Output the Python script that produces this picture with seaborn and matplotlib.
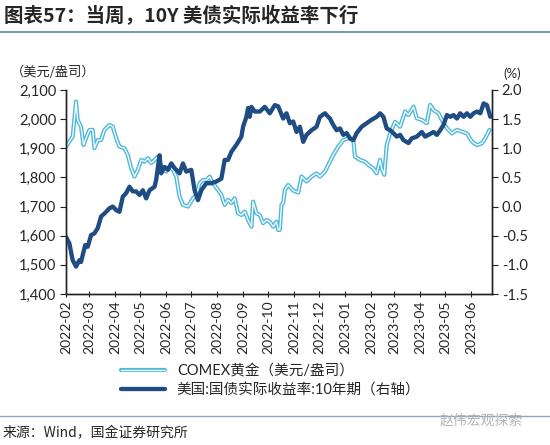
import numpy as np
import pandas as pd
import matplotlib
matplotlib.use("Agg")
import matplotlib.pyplot as plt
import matplotlib.dates as mdates
import matplotlib.patheffects as pe
from matplotlib.ticker import FuncFormatter, MultipleLocator
import seaborn as sns

# COMEX gold, USD/oz (left axis)
gold_dates = [
    "2022-02-01", "2022-02-05", "2022-02-09", "2022-02-13", "2022-02-15", "2022-02-19",
    "2022-02-22", "2022-02-25", "2022-03-01", "2022-03-05", "2022-03-07", "2022-03-11",
    "2022-03-15", "2022-03-19", "2022-03-25", "2022-03-29", "2022-04-02", "2022-04-06",
    "2022-04-12", "2022-04-16", "2022-04-20", "2022-04-24", "2022-04-28", "2022-05-02",
    "2022-05-06", "2022-05-10", "2022-05-14", "2022-05-18", "2022-05-22", "2022-05-24",
    "2022-05-28", "2022-06-01", "2022-06-05", "2022-06-09", "2022-06-13", "2022-06-17",
    "2022-06-21", "2022-06-27", "2022-07-03", "2022-07-07", "2022-07-11", "2022-07-15",
    "2022-07-19", "2022-07-23", "2022-07-27", "2022-08-02", "2022-08-06", "2022-08-10",
    "2022-08-14", "2022-08-18", "2022-08-22", "2022-08-26", "2022-08-30", "2022-09-03",
    "2022-09-07", "2022-09-11", "2022-09-13", "2022-09-17", "2022-09-21", "2022-09-25",
    "2022-09-29", "2022-10-03", "2022-10-07", "2022-10-11", "2022-10-13", "2022-10-15",
    "2022-10-17", "2022-10-19", "2022-10-21", "2022-10-25", "2022-10-31", "2022-11-06",
    "2022-11-10", "2022-11-16", "2022-11-22", "2022-11-28", "2022-12-02", "2022-12-08",
    "2022-12-14", "2022-12-18", "2022-12-24", "2022-12-30", "2023-01-05", "2023-01-11",
    "2023-01-13", "2023-01-19", "2023-01-25", "2023-01-29", "2023-02-04", "2023-02-08",
    "2023-02-12", "2023-02-14", "2023-02-17", "2023-02-20", "2023-02-24", "2023-03-02",
    "2023-03-08", "2023-03-14", "2023-03-18", "2023-03-24", "2023-03-28", "2023-04-03",
    "2023-04-09", "2023-04-13", "2023-04-17", "2023-04-23", "2023-04-29", "2023-05-03",
    "2023-05-09", "2023-05-15", "2023-05-21", "2023-05-27", "2023-06-02", "2023-06-08",
    "2023-06-14", "2023-06-18", "2023-06-23",
]
gold_values = [
    1906, 1923, 1940, 2060, 1997, 1974,
    1911, 1935, 1963, 1963, 1900, 1928,
    1928, 1963, 1980, 1974, 1935, 1906,
    1900, 1877, 1832, 1803, 1826, 1860,
    1854, 1866, 1849, 1860, 1871, 1854,
    1826, 1820, 1837, 1826, 1803, 1734,
    1706, 1700, 1728, 1740, 1780, 1791,
    1791, 1803, 1780, 1757, 1740, 1706,
    1723, 1712, 1728, 1677, 1671, 1683,
    1654, 1631, 1717, 1677, 1671, 1643,
    1654, 1648, 1631, 1648, 1620, 1620,
    1706, 1712, 1757, 1774, 1755, 1748,
    1803, 1786, 1803, 1814, 1803, 1820,
    1854, 1877, 1906, 1928, 1934, 1928,
    1871, 1860, 1854, 1843, 1831, 1814,
    1860, 1831, 1809, 1911, 1951, 1991,
    1974, 2026, 2014, 2043, 2003, 1997,
    1986, 2049, 2031, 2020, 1986, 1969,
    1951, 1963, 1957, 1951, 1923, 1911,
    1917, 1934, 1963,
]

# US 10Y TIPS real yield, % (right axis)
ry_dates = [
    "2022-02-01", "2022-02-05", "2022-02-09", "2022-02-13", "2022-02-17", "2022-02-19",
    "2022-02-24", "2022-02-27", "2022-03-03", "2022-03-07", "2022-03-11", "2022-03-15",
    "2022-03-19", "2022-03-25", "2022-03-29", "2022-04-02", "2022-04-06", "2022-04-10",
    "2022-04-14", "2022-04-18", "2022-04-22", "2022-04-26", "2022-04-30", "2022-05-04",
    "2022-05-08", "2022-05-12", "2022-05-18", "2022-05-20", "2022-05-24", "2022-05-26",
    "2022-05-30", "2022-06-03", "2022-06-07", "2022-06-11", "2022-06-17", "2022-06-21",
    "2022-06-25", "2022-07-01", "2022-07-05", "2022-07-09", "2022-07-13", "2022-07-19",
    "2022-07-25", "2022-07-31", "2022-08-06", "2022-08-10", "2022-08-14", "2022-08-18",
    "2022-08-24", "2022-08-30", "2022-09-01", "2022-09-05", "2022-09-07", "2022-09-09",
    "2022-09-11", "2022-09-15", "2022-09-21", "2022-09-27", "2022-10-03", "2022-10-09",
    "2022-10-13", "2022-10-17", "2022-10-19", "2022-10-23", "2022-10-27", "2022-10-31",
    "2022-11-04", "2022-11-08", "2022-11-12", "2022-11-16", "2022-11-22", "2022-11-28",
    "2022-12-02", "2022-12-08", "2022-12-14", "2022-12-18", "2022-12-22", "2022-12-26",
    "2022-12-30", "2023-01-03", "2023-01-07", "2023-01-11", "2023-01-15", "2023-01-21",
    "2023-01-27", "2023-02-02", "2023-02-08", "2023-02-12", "2023-02-16", "2023-02-20",
    "2023-02-24", "2023-02-28", "2023-03-04", "2023-03-08", "2023-03-12", "2023-03-18",
    "2023-03-22", "2023-03-28", "2023-04-03", "2023-04-07", "2023-04-11", "2023-04-17",
    "2023-04-21", "2023-04-25", "2023-04-29", "2023-05-03", "2023-05-07", "2023-05-11",
    "2023-05-15", "2023-05-19", "2023-05-23", "2023-05-27", "2023-05-31", "2023-06-04",
    "2023-06-08", "2023-06-12", "2023-06-16", "2023-06-20", "2023-06-24",
]
ry_values = [
    -0.52, -0.63, -0.92, -1.03, -0.92, -0.95,
    -0.66, -0.69, -0.49, -0.46, -0.37, -0.17,
    -0.12, -0.03, 0.00, -0.06, -0.09, 0.17,
    0.23, 0.34, 0.26, 0.26, 0.20, 0.28,
    0.14, 0.28, 0.34, 0.46, 0.88, 0.57,
    0.68, 0.63, 0.74, 0.66, 0.57, 0.74,
    0.60, 0.63, 0.28, 0.11, 0.28, 0.40,
    0.40, 0.43, 0.48, 0.80, 0.80, 0.94,
    1.06, 1.20, 1.37, 1.54, 1.69, 1.54,
    1.71, 1.63, 1.63, 1.71, 1.60, 1.74,
    1.72, 1.58, 1.51, 1.60, 1.43, 1.46,
    1.28, 1.37, 1.11, 1.23, 1.31, 1.37,
    1.54, 1.60, 1.51, 1.40, 1.31, 1.34,
    1.23, 1.26, 1.17, 1.14, 1.26, 1.37,
    1.43, 1.49, 1.54, 1.60, 1.54, 1.34,
    1.31, 1.26, 1.20, 1.23, 1.14, 1.09,
    1.17, 1.20, 1.28, 1.20, 1.23, 1.28,
    1.23, 1.31, 1.40, 1.57, 1.54, 1.57,
    1.51, 1.60, 1.54, 1.60, 1.54, 1.60,
    1.63, 1.60, 1.77, 1.74, 1.54,
]

GOLD_LABEL = "COMEX黄金（美元/盎司）"
RY_LABEL = "美国:国债实际收益率:10年期（右轴）"
LIGHT_BLUE = "#4fb8d8"
DARK_BLUE = "#1f4c82"

gold_df = pd.DataFrame({"date": pd.to_datetime(gold_dates), "value": gold_values})
ry_df = pd.DataFrame({"date": pd.to_datetime(ry_dates), "value": ry_values})

sns.set_style("ticks")
plt.rcParams["font.family"] = ["Lato", "Noto Sans CJK SC", "DejaVu Sans"]
plt.rcParams["axes.unicode_minus"] = False
CJK = ["Noto Sans CJK SC", "DejaVu Sans"]

fig = plt.figure(figsize=(5.5, 4.45), dpi=100)
ax = fig.add_axes([0.12, 0.3393, 0.7745, 0.4585])
ax2 = ax.twinx()

# gold drawn as a hollow double line: light-blue stroke with a white core
sns.lineplot(data=gold_df, x="date", y="value", ax=ax, color="#f4fbfd", lw=1.0,
             label=GOLD_LABEL, legend=False,
             path_effects=[pe.Stroke(linewidth=3.0, foreground=LIGHT_BLUE), pe.Normal()])
sns.lineplot(data=ry_df, x="date", y="value", ax=ax2, color=DARK_BLUE, lw=3.1,
             label=RY_LABEL, legend=False)

ax.set_ylim(1400, 2100)
ax.yaxis.set_major_locator(MultipleLocator(100))
ax.yaxis.set_major_formatter(FuncFormatter(lambda v, p: f"{v:,.0f}"))
ax2.set_ylim(-1.5, 2.0)
ax2.yaxis.set_major_locator(MultipleLocator(0.5))
ax2.yaxis.set_major_formatter(FuncFormatter(lambda v, p: f"{v:.1f}"))

ax.set_xlim(pd.Timestamp("2022-02-01"), pd.Timestamp("2023-06-26"))
ax.xaxis.set_major_locator(mdates.MonthLocator())
ax.xaxis.set_major_formatter(mdates.DateFormatter("%Y-%m"))
ax.set_xlabel("")
ax.set_ylabel("")
ax2.set_ylabel("")

for a in (ax, ax2):
    a.spines["top"].set_visible(False)
    for s in ("left", "right", "bottom"):
        a.spines[s].set_color("#222222")
        a.spines[s].set_linewidth(1.0)
ax.tick_params(axis="y", labelsize=10.5, length=4, color="#222222", pad=3)
ax2.tick_params(axis="y", labelsize=10.5, length=4, color="#222222", pad=3)
ax.tick_params(axis="x", labelsize=10, rotation=90, length=5, direction="inout",
               color="#222222", pad=2)

fig.text(0.02, 0.838, "（美元/盎司）", fontsize=9.5, family=CJK, va="center")
fig.text(0.915, 0.835, "(%)", fontsize=9.5, va="center")

# title and rules
fig.text(0.008, 0.963, "图表57：当周，10Y 美债实际收益率下行", fontsize=14,
         fontweight="bold", style="italic", family=CJK, va="center")
fig.add_artist(plt.Line2D([0, 1], [0.928, 0.928], color="#5b87b5", lw=1.2))
fig.add_artist(plt.Line2D([0, 1], [0.065, 0.065], color="#8fa7c2", lw=1.0))
fig.text(0.005, 0.027, "来源：Wind，国金证券研究所", fontsize=10, family=CJK, va="center")
fig.text(0.8, 0.055, "赵伟宏观探索", fontsize=10, family=CJK, color="#b5b5b5", va="center")

handles = ax.get_lines() + ax2.get_lines()
fig.legend(handles=handles, labels=[GOLD_LABEL, RY_LABEL], loc="upper left",
           bbox_to_anchor=(0.21, 0.195), frameon=False,
           handlelength=3.0, labelspacing=0.35, borderaxespad=0,
           prop={"family": ["Lato", "Noto Sans CJK SC"], "size": 10.5})

fig.savefig("out.png", dpi=100)
